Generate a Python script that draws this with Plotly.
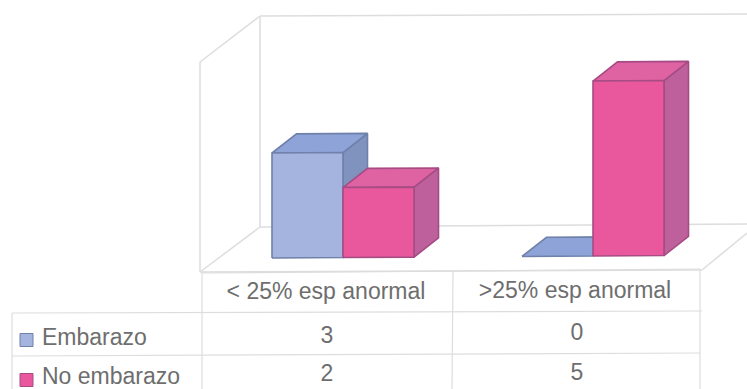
import plotly.graph_objects as go

categories = ["< 25% esp anormal", ">25% esp anormal"]
series_names = ["Embarazo", "No embarazo"]
embarazo = [3, 0]
no_embarazo = [2, 5]

FRONT = ["#a5b4de", "#e9589d"]
TOP = ["#8ea3d8", "#df62a3"]
SIDE = ["#8093bf", "#bd609c"]
EDGE = ["#6f81a9", "#a64c84"]
GRID = "#dddddd"
TEXT = "#6e6e6e"

# Drawing scale of the oblique projection, in screen pixels
W, H = 747, 389
UNIT = 35.0
BASE = 258.0
TILT = -0.0062
X0, PITCH, BAR_W = 272.0, 250.0, 71.0
DX, DY = 24.5, 19.0


def from_px(py):
    """Screen row to value-axis units."""
    return (BASE - py) / UNIT


def project(x, value, depth=0.0):
    """Front-plane x and value, pushed back by a depth fraction."""
    sx = x + DX * depth
    shift = TILT * (sx - X0) / UNIT
    return sx, value + depth * DY / UNIT - shift


def polygon(points, fill, edge):
    coords = [project(*p) for p in points]
    xs = [c[0] for c in coords] + [coords[0][0]]
    ys = [c[1] for c in coords] + [coords[0][1]]
    return go.Scatter(x=xs, y=ys, mode="lines", fill="toself", fillcolor=fill,
                      line=dict(color=edge, width=1.6), hoverinfo="skip", showlegend=False)


def rule(x0, y0, x1, y1, color=GRID, width=1.5):
    return go.Scatter(x=[x0, x1], y=[from_px(y0), from_px(y1)], mode="lines",
                      line=dict(color=color, width=width), hoverinfo="skip", showlegend=False)


def label(x, y, text, position="middle center"):
    return go.Scatter(x=[x], y=[from_px(y)], mode="text", text=[text], textposition=position,
                      textfont=dict(family="Liberation Sans", size=23, color=TEXT),
                      hoverinfo="skip", showlegend=False)


traces = []

# Walls and floor of the chart box
wall_lines = [
    (260, 16, 747, 14), (260, 16, 260, 227), (260, 16, 200, 62), (200, 62, 200, 272),
    (260, 227, 747, 224), (260, 227, 200, 272), (200, 272, 702, 270), (702, 270, 747, 233),
]
traces += [rule(*segment) for segment in wall_lines]

# One oblique box per value, series by series inside each category
for cat in range(len(categories)):
    for s, values in enumerate([embarazo, no_embarazo]):
        v = values[cat]
        left = X0 + cat * PITCH + s * BAR_W
        right = left + BAR_W
        if v > 0:
            traces.append(polygon([(right, 0, 0), (right, 0, 1), (right, v, 1), (right, v, 0)],
                                  SIDE[s], EDGE[s]))
        traces.append(polygon([(left, v, 0), (left, v, 1), (right, v, 1), (right, v, 0)],
                              TOP[s], EDGE[s]))
        if v > 0:
            traces.append(polygon([(left, 0, 0), (right, 0, 0), (right, v, 0), (left, v, 0)],
                                  FRONT[s], EDGE[s]))

# Data table below the plot
table_lines = [
    (202, 273, 700, 269), (12, 313, 702, 311), (12, 356, 700, 353),
    (12, 313, 12, 389), (202, 272, 202, 389), (453, 272, 452, 389), (700, 269, 700, 389),
]
traces += [rule(*segment, width=1.2) for segment in table_lines]

traces.append(label(326, 293, categories[0]))
traces.append(label(575, 292, categories[1]))
traces.append(label(327, 337, str(embarazo[0])))
traces.append(label(577, 334, str(embarazo[1])))
traces.append(label(327, 375, str(no_embarazo[0])))
traces.append(label(577, 374, str(no_embarazo[1])))
traces.append(label(42, 339, series_names[0], "middle right"))
traces.append(label(42, 378, series_names[1], "middle right"))

# Legend keys in the row headers
for s, y in enumerate([340, 380]):
    traces.append(go.Scatter(x=[26.5], y=[from_px(y)], mode="markers",
                             marker=dict(symbol="square", size=13, color=FRONT[s],
                                         line=dict(color=EDGE[s], width=1)),
                             hoverinfo="skip", showlegend=False))

fig = go.Figure(traces)
fig.update_layout(
    width=W, height=H, margin=dict(l=0, r=0, t=0, b=0),
    paper_bgcolor="white", plot_bgcolor="white", showlegend=False,
    xaxis=dict(range=[0, W], visible=False, fixedrange=True),
    yaxis=dict(range=[from_px(H), from_px(0)], visible=False, fixedrange=True),
)
fig.write_html("out.html", config=dict(displayModeBar=False))
